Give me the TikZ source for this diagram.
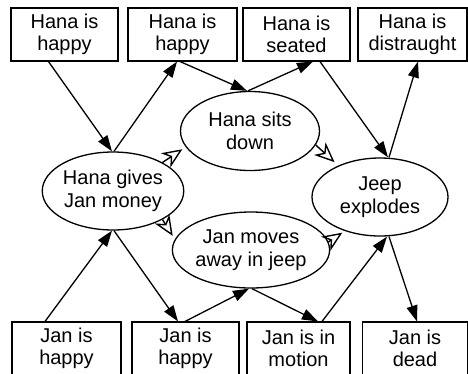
\documentclass[tikz,border=0pt]{standalone}
\usepackage{fontspec}
\setmainfont{Liberation Sans}
\usetikzlibrary{arrows.meta,shapes.geometric}
\begin{document}
\begin{tikzpicture}[x=1pt,y=-1pt,
  statebox/.style={draw, line width=1.1pt, rectangle, minimum height=53pt, inner sep=0pt, align=center, font=\fontsize{20}{22.5}\selectfont},
  eventnode/.style={draw, line width=1.3pt, ellipse, inner sep=0pt, align=center, font=\fontsize{20}{22.5}\selectfont},
  link/.style={line width=1.3pt, -{Triangle[length=16pt,width=11pt]}},
  causal/.style={line width=1.4pt, -{Stealth[open,length=20pt,width=17pt,inset=6pt]}}]
\useasboundingbox (0,0) rectangle (468,373);
% top state boxes
\node[statebox, minimum width=107pt] (t1) at (64.5,34.5) {Hana is\\happy};
\node[statebox, minimum width=109pt] (t2) at (182.5,34.5) {Hana is\\happy};
\node[statebox, minimum width=107pt] (t3) at (296.5,34.5) {Hana is\\seated};
\node[statebox, minimum width=109pt] (t4) at (412.5,34.5) {Hana is\\distraught};
% bottom state boxes
\node[statebox, minimum width=109pt] (b1) at (66.5,348.5) {Jan is\\happy};
\node[statebox, minimum width=107pt] (b2) at (185.5,348.5) {Jan is\\happy};
\node[statebox, minimum width=103pt] (b3) at (298.5,348.5) {Jan is in\\motion};
\node[statebox, minimum width=105pt] (b4) at (415,348.5) {Jan is\\dead};
% events
\node[eventnode, minimum width=140pt, minimum height=78pt] (hg) at (113,191) {Hana gives\\Jan money};
\node[eventnode, minimum width=139pt, minimum height=79pt] (hs) at (250,131) {Hana sits\\down};
\node[eventnode, minimum width=141pt, minimum height=76pt] (jm) at (251,250) {Jan moves\\away in jeep};
\node[eventnode, minimum width=136pt, minimum height=78pt] (je) at (380,197) {Jeep\\explodes};
% state links, top
\draw[link] ([xshift=-16pt]t1.south) -- ([xshift=-1pt]hg.north);
\draw[link] ([xshift=1pt]hg.north) -- ([xshift=-5.5pt]t2.south);
\draw[link] ([xshift=-2.5pt]t2.south) -- ([xshift=-3pt]hs.north);
\draw[link] ([xshift=-2pt]hs.north) -- ([xshift=16.5pt]t3.south);
\draw[link] ([xshift=23.5pt]t3.south) -- ([xshift=8pt]je.north);
\draw[link] ([xshift=9pt]je.north) -- ([xshift=5.5pt]t4.south);
% state links, bottom
\draw[link] ([xshift=-21.5pt]b1.north) -- ([xshift=-1pt]hg.south);
\draw[link] ([xshift=1pt]hg.south) -- ([xshift=-7.5pt]b2.north);
\draw[link] ([xshift=-0.5pt]b2.north) -- ([xshift=-2pt]jm.south);
\draw[link] ([xshift=1pt]jm.south) -- ([xshift=19.5pt]b3.north);
\draw[link] ([xshift=23.5pt]b3.north) -- ([xshift=7pt]je.south);
\draw[link] ([xshift=9pt]je.south) -- ([xshift=2pt]b4.north);
% causal links
\draw[causal, shorten >=4pt] (hg.30) -- (hs.194);
\draw[causal, shorten >=5pt] (hs.348) -- (je.143);
\draw[causal, shorten >=4pt] (hg.330) -- (jm.172);
\draw[causal, shorten >=3pt] (jm.6) -- (je.224);
\end{tikzpicture}
\end{document}
